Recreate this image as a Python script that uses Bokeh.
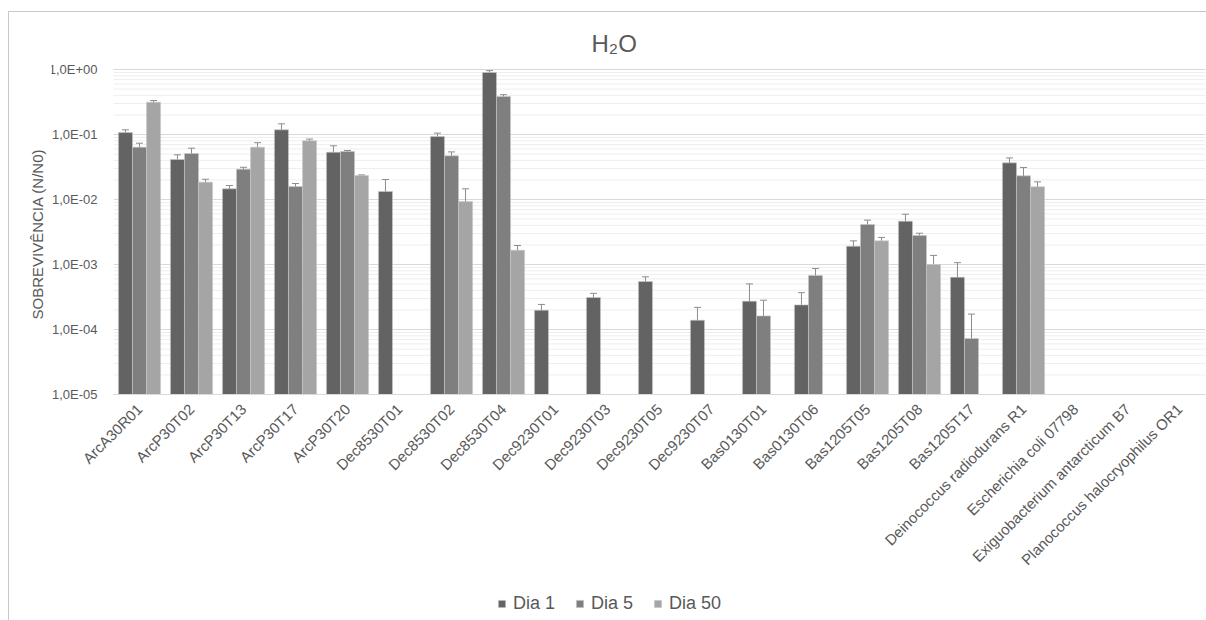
import math
from bokeh.plotting import figure
from bokeh.models import (ColumnDataSource, FixedTicker, Whisker, TeeHead, Legend,
                          LegendItem, Range1d, Title)
from bokeh.embed import file_html
from bokeh.resources import INLINE

categories = ["ArcA30R01", "ArcP30T02", "ArcP30T13", "ArcP30T17", "ArcP30T20",
              "Dec8530T01", "Dec8530T02", "Dec8530T04", "Dec9230T01", "Dec9230T03",
              "Dec9230T05", "Dec9230T07", "Bas0130T01", "Bas0130T06", "Bas1205T05",
              "Bas1205T08", "Bas1205T17", "Deinococcus radiodurans R1",
              "Escherichia coli 07798", "Exiguobacterium antarcticum B7",
              "Planococcus halocryophilus OR1"]

dia1 = [0.107, 0.0412, 0.0146, 0.118, 0.0534, 0.0133, 0.093, 0.90, 0.000198, 0.00031,
        0.000547, 0.000139, 0.000273, 0.000239, 0.00191, 0.00464, 0.000638, 0.0366,
        None, None, None]
dia1_err = [0.011, 0.0075, 0.0018, 0.028, 0.0136, 0.007, 0.012, 0.06, 0.000045, 0.00005,
            0.0001, 0.00008, 0.00023, 0.00013, 0.0004, 0.0013, 0.00043, 0.007,
            None, None, None]

dia5 = [0.0638, 0.051, 0.0293, 0.0158, 0.0548, None, 0.047, 0.384, None, None,
        None, None, 0.000162, 0.000677, 0.00412, 0.00279, 0.0000727, 0.0231,
        None, None, None]
dia5_err = [0.0097, 0.0106, 0.002, 0.0018, 0.002, None, 0.007, 0.026, None, None,
            None, None, 0.00012, 0.00019, 0.0007, 0.00024, 0.0001, 0.008,
            None, None, None]

dia50 = [0.314, 0.0185, 0.0638, 0.080, 0.0234, None, 0.0093, 0.00166, None, None,
         None, None, None, None, 0.00231, 0.001, None, 0.0157,
         None, None, None]
dia50_err = [0.019, 0.002, 0.011, 0.005, 0.0005, None, 0.0053, 0.0003, None, None,
             None, None, None, None, 0.0003, 0.00038, None, 0.003,
             None, None, None]

series_names = ["Dia 1", "Dia 5", "Dia 50"]
series_colors = ["#636363", "#7f7f7f", "#a5a5a5"]

ytick_values = [1e-5, 1e-4, 1e-3, 1e-2, 1e-1, 1.0]
ytick_labels = ["1,0E-05", "1,0E-04", "1,0E-03", "1,0E-02", "1,0E-01", "1,0E+00"]
yminor_values = [k * 10.0 ** e for e in range(-5, 0) for k in range(2, 10)]

TEXT = "#595959"
FONT = "Liberation Sans"
YMIN = 1e-5
YMAX = 1.0
N = len(categories)

# layout: 65 px per decade, 52 px per category; the frame is extended below
# 1E-05 (labels + legend), above 1E+00 (room for the top tick label) and to
# the left of the first category (tick labels)
DECADE_PX = 65
EXTRA_PX = 222
TOP_PX = 10
CAT_PX = 52
LEFT_PX = 62
FRAME_H = 5 * DECADE_PX + EXTRA_PX + TOP_PX
FRAME_W = N * CAT_PX + LEFT_PX
view_start = 10 ** (-5 - EXTRA_PX / DECADE_PX)
view_end = 10 ** (TOP_PX / DECADE_PX)

p = figure(x_range=Range1d(-LEFT_PX / CAT_PX, N), y_axis_type="log",
           y_range=Range1d(view_start, view_end),
           frame_width=FRAME_W, frame_height=FRAME_H,
           min_border_left=42, min_border_top=47, min_border_right=2,
           min_border_bottom=5, output_backend="svg", toolbar_location=None,
           title="H₂O")
p.margin = (11, 0, 0, 8)
p.styles = {"border": "1px solid #c8c8c8"}
p.outline_line_color = None
p.background_fill_color = "white"
p.border_fill_color = "white"

p.title.align = "left"
p.title.offset = 540
p.title.standoff = 6
p.title.text_font = FONT
p.title.text_font_size = "24px"
p.title.text_font_style = "normal"
p.title.text_color = TEXT

# grid lines only across the category area
grid_major = ColumnDataSource(dict(y=ytick_values))
grid_minor = ColumnDataSource(dict(y=yminor_values))
p.segment(x0=0, x1=N, y0="y", y1="y", source=grid_minor, line_color="#eeeeee",
          line_width=1, level="underlay")
p.segment(x0=0, x1=N, y0="y", y1="y", source=grid_major, line_color="#d9d9d9",
          line_width=1, level="underlay")
p.xgrid.grid_line_color = None
p.ygrid.grid_line_color = None

# y axis pinned at the left edge of the categories
p.yaxis.fixed_location = 0
p.yaxis.bounds = (YMIN, YMAX)
p.yaxis.ticker = FixedTicker(ticks=ytick_values, minor_ticks=[])
p.yaxis.major_label_overrides = {v: l for v, l in zip(ytick_values, ytick_labels)}
p.yaxis.axis_line_color = None
p.yaxis.major_tick_line_color = None
p.yaxis.minor_tick_line_color = None
p.yaxis.major_label_text_font = FONT
p.yaxis.major_label_text_font_size = "13px"
p.yaxis.major_label_text_color = TEXT
p.yaxis.major_label_standoff = 10

ylab = Title(text="SOBREVIVÊNCIA (N/N0)", align="left", offset=297,
             text_font=FONT, text_font_size="15px", text_font_style="normal",
             text_color=TEXT, standoff=12)
p.add_layout(ylab, "left")

# x axis pinned at 1E-05
xtick_pos = [i + 0.5 for i in range(N)]
p.xaxis.fixed_location = YMIN
p.xaxis.bounds = (0, N)
p.xaxis.ticker = FixedTicker(ticks=xtick_pos, minor_ticks=[])
p.xaxis.major_label_overrides = {x: c for x, c in zip(xtick_pos, categories)}
p.xaxis.axis_line_color = "#d9d9d9"
p.xaxis.major_tick_line_color = None
p.xaxis.minor_tick_line_color = None
p.xaxis.major_label_orientation = math.pi / 4
p.xaxis.major_label_text_font = FONT
p.xaxis.major_label_text_font_size = "15px"
p.xaxis.major_label_text_color = TEXT
p.xaxis.major_label_standoff = 6

offsets = [-0.27, 0.0, 0.27]
bar_w = 0.27
items = []
for name, color, vals, errs, off in zip(series_names, series_colors,
                                         [dia1, dia5, dia50],
                                         [dia1_err, dia5_err, dia50_err], offsets):
    xs, tops, ups, los = [], [], [], []
    for i, (v, e) in enumerate(zip(vals, errs)):
        if v is None:
            continue
        xs.append(i + 0.5 + off)
        tops.append(v)
        ups.append(v + e)
        los.append(max(v - e, YMIN * 1.05))
    src = ColumnDataSource(dict(x=xs, top=tops, up=ups, lo=los))
    r = p.vbar(x="x", top="top", bottom=YMIN, width=bar_w, source=src,
               fill_color=color, line_color="#c8c8c8", line_width=0.6)
    w = Whisker(base="x", upper="up", lower="lo", source=src,
                line_color="#8c8c8c", line_width=1,
                upper_head=TeeHead(size=7, line_color="#8c8c8c", line_width=1),
                lower_head=TeeHead(size=7, line_color="#8c8c8c", line_width=1))
    p.add_layout(w)
    items.append(LegendItem(label=name, renderers=[r]))

legend = Legend(items=items, orientation="horizontal", location=(446, 2))
legend.label_text_font = FONT
legend.label_text_font_size = "18px"
legend.label_text_color = TEXT
legend.glyph_width = 9
legend.glyph_height = 9
legend.label_standoff = 7
legend.spacing = 20
legend.padding = 0
legend.margin = 0
legend.border_line_color = None
legend.background_fill_alpha = 0
p.add_layout(legend, "center")

open("out.html", "w").write(file_html(p, INLINE))
